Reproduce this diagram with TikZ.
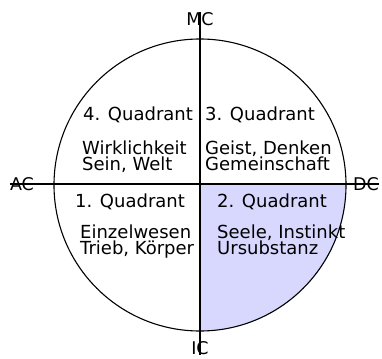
\documentclass[tikz,border=0pt]{standalone}
\usepackage{fontspec}
\setmainfont{DejaVu Sans}
\usetikzlibrary{positioning}

\definecolor{quadfill}{RGB}{216,216,255}

\begin{document}
\begin{tikzpicture}[
                    x=1pt, y=-1pt,
                    label/.style={inner sep=0pt, font=\fontsize{17.5}{16}\selectfont},
                    quad/.style={inner sep=0pt, anchor=base west, align=left, font=\fontsize{18}{16}\selectfont},
                    axis/.style={line width=1.6pt},
                    ring/.style={line width=1.1pt}
                ]
                \useasboundingbox (0,0) rectangle (382,358);

                % Circle & filled quadrant
                \coordinate (center) at (200,185);
                \fill[quadfill] (center) -- ++(146,0) arc[start angle=0, end angle=90, radius=146] -- cycle;
                \draw[ring] (center) circle[radius=146];

                % Axis labels
                \node[label] (MC) at (200,19) {MC};
                \node[label] (IC) at (200,348) {IC};
                \node[label] (AC) at (22,184) {AC};
                \node[label] (DC) at (366,184) {DC};

                % Quadrants (upper)
                \node[quad] (q4) at (83,121) {4. Quadrant};
                \node[quad] (q4txt) at (82,170) {Wirklichkeit\\Sein, Welt};
                \node[quad] (q3) at (205,121) {3. Quadrant};
                \node[quad] (q3txt) at (205,170) {Geist, Denken\\Gemeinschaft};

                % Quadrants (lower)
                \node[quad] (q1) at (75,207) {1. Quadrant};
                \node[quad] (q1txt) at (80,254) {Einzelwesen\\Trieb, Körper};
                \node[quad] (q2) at (217,207) {2. Quadrant};
                \node[quad] (q2txt) at (217,254) {Seele, Instinkt\\Ursubstanz};

                % Axes
                \draw[axis] (MC.north) -- (IC.south);
                \draw[axis] (AC.west) -- (DC.east);
            \end{tikzpicture}
\end{document}
